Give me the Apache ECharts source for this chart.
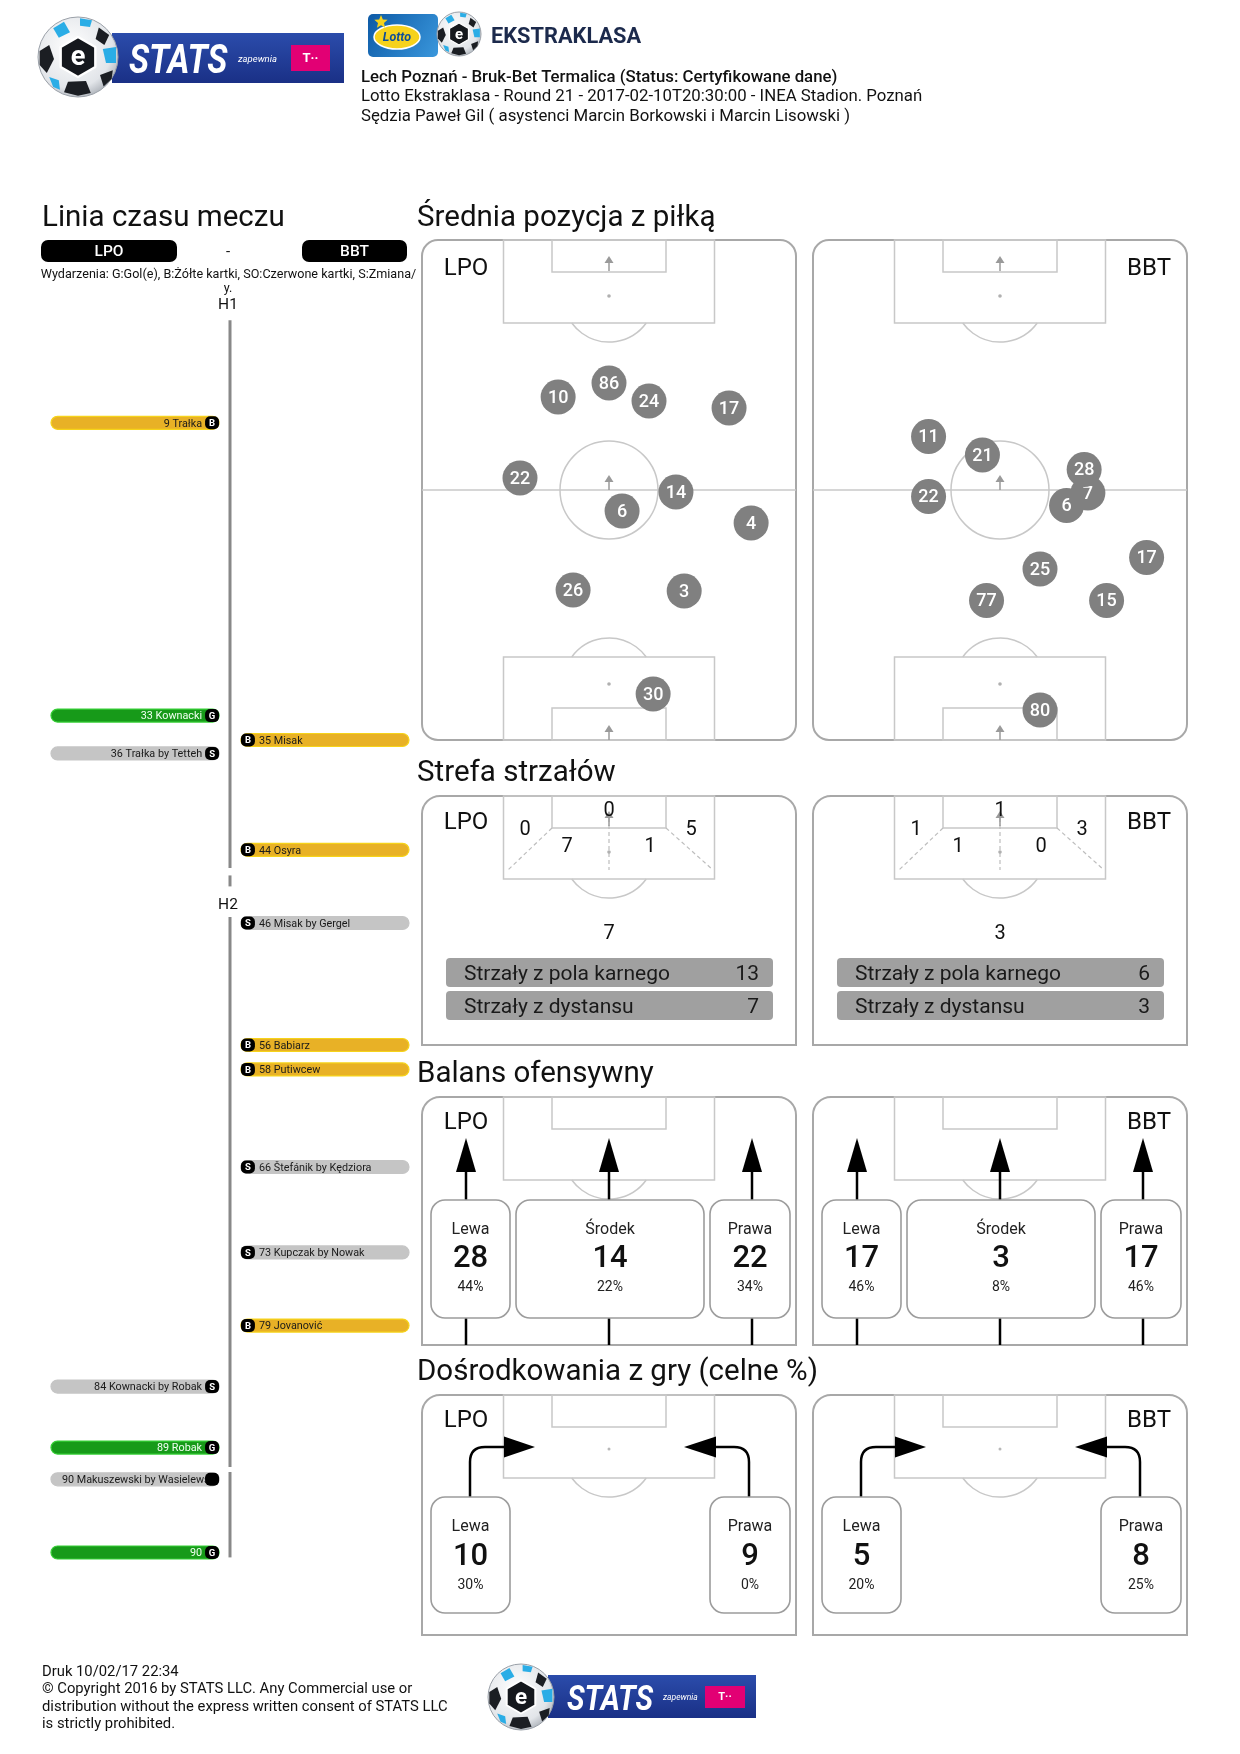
<!DOCTYPE html>
<html>
<head>
<meta charset="utf-8">
<script src="https://cdn.jsdelivr.net/npm/echarts/dist/echarts.min.js"></script>
<style>
html,body{margin:0;padding:0;background:#ffffff;}
#chart{width:1240px;height:1754px;}
</style>
</head>
<body>
<div id="chart"></div>
<script>
// ================= DATA =================
const headerLines = [
  'Lech Poznań - Bruk-Bet Termalica (Status: Certyfikowane dane)',
  'Lotto Ekstraklasa - Round 21 - 2017-02-10T20:30:00 - INEA Stadion. Poznań',
  'Sędzia Paweł Gil ( asystenci Marcin Borkowski i Marcin Lisowski )'
];
const teams = ['LPO', 'BBT'];
const sectionTitles = ['Linia czasu meczu', 'Średnia pozycja z piłką', 'Strefa strzałów', 'Balans ofensywny', 'Dośrodkowania z gry (celne %)'];
const legendLine1 = 'Wydarzenia: G:Gol(e), B:Żółte kartki, SO:Czerwone kartki, S:Zmiana/';
const legendLine2 = 'y.';
const footerLines = [
  'Druk 10/02/17 22:34',
  '© Copyright 2016 by STATS LLC. Any Commercial use or',
  'distribution without the express written consent of STATS LLC',
  'is strictly prohibited.'
];

// Timeline (eventTime = position on the running match clock incl. half-time gap)
const eventMinute = [9, 33, 35, 36, 44, 46, 56, 58, 66, 73, 79, 84, 89, 90, 90];
const eventTime   = [9, 33, 35, 36.1, 44, 50, 60, 62, 70, 77, 83, 88, 93, 95.6, 101.6];
const eventTeam   = ['LPO','LPO','BBT','LPO','BBT','BBT','BBT','BBT','BBT','BBT','BBT','LPO','LPO','LPO','LPO'];
const eventType   = ['B','G','B','S','B','S','B','B','S','S','B','S','G','S','G'];
const eventText   = ['Trałka','Kownacki','Misak','Trałka by Tetteh','Osyra','Misak by Gergel','Babiarz','Putiwcew','Štefánik by Kędziora','Kupczak by Nowak','Jovanović','Kownacki by Robak','Robak','Makuszewski by Wasielewski',''];
const timelineSegments = [[0.6, 45.5], [46.1, 47.0], [49.5, 94.6], [95.0, 102.0]];
const halfLabels = ['H1', 'H2'];
const halfLabelTime = [-0.8, 48.4];

// Average positions (x: 0-100 across, y: 0-100 own goal -> opponent goal)
const lpoNumbers = [10, 86, 24, 17, 22, 14, 6, 4, 26, 3, 30];
const lpoX = [36.4, 50.0, 60.7, 82.1, 26.2, 67.9, 53.5, 88.0, 40.4, 70.1, 61.8];
const lpoY = [68.6, 71.4, 67.8, 66.4, 52.4, 49.6, 45.8, 43.4, 30.0, 29.8, 9.2];
const bbtNumbers = [11, 21, 22, 7, 28, 6, 25, 17, 77, 15, 80];
const bbtX = [30.9, 45.3, 30.9, 73.5, 72.5, 67.8, 60.7, 89.2, 46.4, 78.5, 60.7];
const bbtY = [60.7, 57.0, 48.7, 49.4, 54.1, 46.9, 34.2, 36.5, 27.9, 27.9, 6.0];

// Shot zones: [left wing, six-yard, right wing, box left, box right, outside box]
const shotZoneLPO = [0, 0, 5, 7, 1, 7];
const shotZoneBBT = [1, 1, 3, 1, 0, 3];
const shotTypeLabels = ['Strzały z pola karnego', 'Strzały z dystansu'];
const shotTypeLPO = [13, 7];
const shotTypeBBT = [6, 3];

// Offensive balance
const balanceLabels = ['Lewa', 'Środek', 'Prawa'];
const balanceLPO = [28, 14, 22];
const balancePctLPO = [44, 22, 34];
const balanceBBT = [17, 3, 17];
const balancePctBBT = [46, 8, 46];

// Crosses
const crossLabels = ['Lewa', 'Prawa'];
const crossLPO = [10, 9];
const crossPctLPO = [30, 0];
const crossBBT = [5, 8];
const crossPctBBT = [20, 25];

// ================= HELPERS =================
const FAM = 'Roboto, "Noto Sans", sans-serif';
const PANEL_STROKE = '#a8a8a8', LINE = '#c8c8c8', ARROW_GRAY = '#9a9a9a';
const PW = 374;
const TEXT_DY = 2.5;
const _ctx = document.createElement('canvas').getContext('2d');
function measure(s, font) { _ctx.font = font; return _ctx.measureText(s).width; }

function T(x, y, s, size, o) {
  o = o || {};
  const font = `${o.style || 'normal'} ${o.weight || 'normal'} ${size}px ${FAM}`;
  const al = o.align || 'left', va = o.va || 'middle';
  const el = {type: 'text', silent: true, x: x, y: y + TEXT_DY, style: {text: String(s), font: font, fill: o.fill || '#111',
    align: al, textAlign: al, verticalAlign: va, textVerticalAlign: va}};
  if (o.sx) { el.scaleX = o.sx; }
  return el;
}
function R(x, y, w, h, stroke, o) {
  o = o || {};
  return {type: 'rect', silent: true, shape: {x: x, y: y, width: w, height: h, r: o.r || 0},
    style: {fill: o.fill || 'none', stroke: stroke || null, lineWidth: o.lw || 1.5}};
}
function Ln(x1, y1, x2, y2, stroke, lw, dash) {
  return {type: 'line', silent: true, shape: {x1: x1, y1: y1, x2: x2, y2: y2},
    style: {stroke: stroke, lineWidth: lw || 1.5, lineDash: dash || null}};
}
function Arc(cx, cy, r, s, e, stroke, lw) {
  return {type: 'arc', silent: true, shape: {cx: cx, cy: cy, r: r, startAngle: s, endAngle: e, clockwise: true},
    style: {fill: 'none', stroke: stroke || LINE, lineWidth: lw || 1.5}};
}
function Circ(cx, cy, r, fill, stroke, lw) {
  return {type: 'circle', silent: true, shape: {cx: cx, cy: cy, r: r},
    style: {fill: fill || 'none', stroke: stroke || null, lineWidth: lw || 1}};
}
function Poly(points, fill) {
  return {type: 'polygon', silent: true, shape: {points: points}, style: {fill: fill}};
}

const g = [];

// ---------- logos ----------
function ball(cx, cy, r) {
  const out = [];
  out.push({type: 'circle', silent: true, shape: {cx: cx, cy: cy, r: r},
    style: {fill: {type: 'radial', x: 0.42, y: 0.38, r: 0.7, colorStops: [
      {offset: 0, color: '#ffffff'}, {offset: 0.72, color: '#e2e5e9'}, {offset: 1, color: '#9ea4ac'}]},
      stroke: '#9aa0a8', lineWidth: 1}});
  const patches = [
    {c: '#1b1e23', p: [[-0.25, 0.62], [0.2, 0.6], [0.32, 0.9], [0, 0.97], [-0.35, 0.88]]},
    {c: '#1b1e23', p: [[-0.96, -0.15], [-0.72, -0.3], [-0.6, 0.05], [-0.78, 0.4], [-0.96, 0.2]]},
    {c: '#1b1e23', p: [[0.52, -0.74], [0.78, -0.55], [0.66, -0.3], [0.44, -0.45]]},
    {c: '#1b1e23', p: [[0.55, 0.45], [0.87, 0.33], [0.84, 0.55], [0.64, 0.74]]},
    {c: '#2aade6', p: [[-0.62, -0.72], [-0.35, -0.88], [-0.2, -0.62], [-0.48, -0.48]]},
    {c: '#2aade6', p: [[0.62, -0.2], [0.95, -0.25], [0.95, 0.15], [0.7, 0.15]]},
    {c: '#2aade6', p: [[-0.72, 0.5], [-0.48, 0.58], [-0.45, 0.82], [-0.62, 0.75]]},
    {c: '#2aade6', p: [[0.05, -0.97], [0.35, -0.92], [0.3, -0.75], [0.05, -0.78]]}
  ];
  patches.forEach(pt => out.push(Poly(pt.p.map(q => [cx + q[0] * r, cy + q[1] * r]), pt.c)));
  const hex = [];
  for (let k = 0; k < 6; k++) { const a = Math.PI / 6 + k * Math.PI / 3; hex.push([cx + Math.cos(a) * r * 0.5, cy + Math.sin(a) * r * 0.5]); }
  out.push({type: 'polygon', silent: true, shape: {points: hex}, style: {fill: '#15181d', stroke: '#ffffff', lineWidth: r * 0.06, lineJoin: 'round'}});
  out.push(T(cx, cy - 1, 'e', r * 0.68, {fill: '#fff', weight: 'bold', align: 'center'}));
  return out;
}
function statsLogo(o) {
  g.push({type: 'rect', silent: true, shape: {x: o.bx, y: o.by, width: o.bw, height: o.bh},
    style: {fill: {type: 'linear', x: 0, y: 0, x2: 0, y2: 1, colorStops: [{offset: 0, color: '#2b4cab'}, {offset: 1, color: '#1a3086'}]}}});
  g.push(T(o.tx, o.by + o.bh / 2 + 2, 'STATS', o.ts, {fill: '#fff', weight: 'bold', style: 'italic', sx: 0.84}));
  g.push(T(o.zx, o.by + o.bh / 2 - 1, 'zapewnia', o.zs, {fill: '#fff', style: 'italic'}));
  g.push(R(o.mx, o.my, o.mw, o.mh, null, {fill: '#e20074'}));
  g.push(T(o.mx + o.mw / 2, o.my + o.mh / 2 - 2, 'T··', o.mh * 0.5, {fill: '#fff', weight: 'bold', align: 'center'}));
  ball(o.cx, o.cy, o.r).forEach(e => g.push(e));
}
statsLogo({bx: 112, by: 33, bw: 232, bh: 50, tx: 129, ts: 40, zx: 238, zs: 9.5, mx: 291, my: 45, mw: 39, mh: 26, cx: 78, cy: 57, r: 40});
statsLogo({bx: 548, by: 1675, bw: 208, bh: 43, tx: 567, ts: 35, zx: 663, zs: 8.5, mx: 705, my: 1686, mw: 40, mh: 22, cx: 521, cy: 1697, r: 33});

// Lotto + Ekstraklasa logo
g.push({type: 'rect', silent: true, shape: {x: 368, y: 14, width: 70, height: 43, r: 5},
  style: {fill: {type: 'linear', x: 0, y: 0, x2: 1, y2: 1, colorStops: [{offset: 0, color: '#0d5aa6'}, {offset: 1, color: '#3a97dc'}]}}});
g.push({type: 'ellipse', silent: true, shape: {cx: 397, cy: 37, rx: 23, ry: 12}, style: {fill: '#f6d21c', stroke: '#ffffff', lineWidth: 1.5}});
g.push(T(397, 35, 'Lotto', 12.5, {fill: '#0d4d99', weight: 'bold', style: 'italic', align: 'center'}));
(function star(cx, cy, R1) {
  const pts = [];
  for (let k = 0; k < 10; k++) { const a = -Math.PI / 2 + k * Math.PI / 5; const rr = k % 2 ? R1 * 0.45 : R1; pts.push([cx + Math.cos(a) * rr, cy + Math.sin(a) * rr]); }
  g.push(Poly(pts, '#f6d21c'));
})(381, 22, 7);
ball(459, 34, 22).forEach(e => g.push(e));
g.push(T(491, 35, 'EKSTRAKLASA', 22, {fill: '#1c2a4c', weight: 'bold', sx: 0.99}));

// header text
headerLines.forEach((s, i) => g.push(T(361, 75 + i * 19.5, s, 16.8, {weight: i === 0 ? '500' : 'normal'})));

// section titles
g.push(T(42, 216, sectionTitles[0], 29.5));
g.push(T(417, 216, sectionTitles[1], 29.5));
g.push(T(417, 771, sectionTitles[2], 29.5));
g.push(T(417, 1072, sectionTitles[3], 29.5));
g.push(T(417, 1370, sectionTitles[4], 29.5));

// timeline header
g.push(R(41, 240, 136, 22, null, {fill: '#000', r: 7}));
g.push(T(109, 250, teams[0], 15.5, {fill: '#fff', weight: '500', align: 'center'}));
g.push(T(228, 250, '-', 15, {align: 'center'}));
g.push(R(302, 240, 105, 22, null, {fill: '#000', r: 7}));
g.push(T(354.5, 250, teams[1], 15.5, {fill: '#fff', weight: '500', align: 'center'}));
g.push(T(228.5, 272, legendLine1, 12.6, {align: 'center'}));
g.push(T(228, 286, legendLine2, 12.6, {align: 'center'}));

// ---------- pitch helpers ----------
function penaltyTop(x0, y0) {
  const cx = x0 + PW / 2, out = [];
  out.push(R(cx - 105.5, y0, 211, 83, LINE));
  out.push(R(cx - 57, y0, 114, 32, LINE));
  const a = Math.acos((83 - 56) / 46);
  out.push(Arc(cx, y0 + 56, 46, Math.PI / 2 - a, Math.PI / 2 + a));
  return out;
}
function penaltyBottom(x0, yb) {
  const cx = x0 + PW / 2, out = [];
  out.push(R(cx - 105.5, yb - 83, 211, 83, LINE));
  out.push(R(cx - 57, yb - 32, 114, 32, LINE));
  const a = Math.acos((83 - 56) / 46);
  out.push(Arc(cx, yb - 56, 46, 1.5 * Math.PI - a, 1.5 * Math.PI + a));
  return out;
}
function grayArrow(cx, tip) {
  return [Poly([[cx, tip], [cx - 4.5, tip + 7], [cx + 4.5, tip + 7]], ARROW_GRAY), Ln(cx, tip + 6, cx, tip + 15, ARROW_GRAY, 1.5)];
}

// Average position pitches
[422, 813].forEach((x0, ti) => {
  const y0 = 240, h = 500, cx = x0 + PW / 2;
  g.push({type: 'rect', silent: true, shape: {x: x0, y: y0, width: PW, height: h, r: 16}, style: {fill: 'none', stroke: PANEL_STROKE, lineWidth: 2}});
  g.push(Ln(x0, y0 + h / 2, x0 + PW, y0 + h / 2, LINE));
  g.push(Circ(cx, y0 + h / 2, 49, 'none', LINE, 1.5));
  penaltyTop(x0, y0).forEach(e => g.push(e));
  penaltyBottom(x0, y0 + h).forEach(e => g.push(e));
  g.push(Circ(cx, y0 + 56, 1.8, '#b0b0b0'));
  g.push(Circ(cx, y0 + h - 56, 1.8, '#b0b0b0'));
  grayArrow(cx, y0 + 16).forEach(e => g.push(e));
  grayArrow(cx, y0 + h / 2 - 15).forEach(e => g.push(e));
  grayArrow(cx, y0 + h - 15).forEach(e => g.push(e));
  g.push(T(ti === 0 ? x0 + 44 : x0 + 336, y0 + 26, teams[ti], 24, {align: 'center'}));
});

// Shot zone panels
[[422, shotZoneLPO, shotTypeLPO], [813, shotZoneBBT, shotTypeBBT]].forEach((cfg, ti) => {
  const x0 = cfg[0], zones = cfg[1], types = cfg[2], y0 = 796, h = 249, cx = x0 + PW / 2;
  g.push({type: 'rect', silent: true, shape: {x: x0, y: y0, width: PW, height: h, r: [18, 18, 0, 0]}, style: {fill: 'none', stroke: PANEL_STROKE, lineWidth: 2}});
  penaltyTop(x0, y0).forEach(e => g.push(e));
  g.push(Ln(cx - 57, y0 + 32, cx - 101, y0 + 74, '#bdbdbd', 1.2, [4, 3]));
  g.push(Ln(cx + 57, y0 + 32, cx + 104, y0 + 74, '#bdbdbd', 1.2, [4, 3]));
  g.push(Ln(cx, y0 + 22, cx, y0 + 74, '#bdbdbd', 1.2, [4, 3]));
  grayArrow(cx, y0 + 15).forEach(e => g.push(e));
  g.push(Circ(cx, y0 + 56, 1.8, '#b0b0b0'));
  const zpos = [[-84, 31], [0, 12], [82, 31], [-42, 48], [41, 48], [0, 135]];
  zones.forEach((v, i) => g.push(T(cx + zpos[i][0], y0 + zpos[i][1], v, 20, {align: 'center'})));
  types.forEach((v, i) => {
    const by = y0 + 162 + i * 33;
    g.push(R(x0 + 24, by, PW - 47, 29, null, {fill: '#a0a0a0', r: 4}));
    g.push(T(x0 + 42, by + 14.5, shotTypeLabels[i], 21, {fill: '#1a1a1a'}));
    g.push(T(x0 + PW - 37, by + 14.5, v, 21, {fill: '#1a1a1a', align: 'right'}));
  });
  g.push(T(ti === 0 ? x0 + 44 : x0 + 336, y0 + 24, teams[ti], 24, {align: 'center'}));
});

// Offensive balance panels
[[422, balanceLPO, balancePctLPO], [813, balanceBBT, balancePctBBT]].forEach((cfg, ti) => {
  const x0 = cfg[0], vals = cfg[1], pcts = cfg[2], y0 = 1097, h = 248;
  g.push({type: 'rect', silent: true, shape: {x: x0, y: y0, width: PW, height: h, r: [18, 18, 0, 0]}, style: {fill: 'none', stroke: PANEL_STROKE, lineWidth: 2}});
  penaltyTop(x0, y0).forEach(e => g.push(e));
  const lanes = [44, 187, 330];
  const boxes = [[9, 88], [94, 282], [288, 368]];
  lanes.forEach((ox, i) => {
    const lx = x0 + ox;
    g.push(Poly([[lx, y0 + 41], [lx - 10, y0 + 75], [lx + 10, y0 + 75]], '#000'));
    g.push(Ln(lx, y0 + 74, lx, y0 + 103, '#000', 2.5));
    g.push(Ln(lx, y0 + 221, lx, y0 + h, '#000', 2.5));
    const b = boxes[i];
    g.push(R(x0 + b[0], y0 + 103, b[1] - b[0], 118, '#9c9c9c', {fill: '#fff', r: 14, lw: 1.6}));
    const tx = x0 + (b[0] + b[1]) / 2;
    g.push(T(tx, y0 + 130, balanceLabels[i], 16, {align: 'center', fill: '#222'}));
    g.push(T(tx, y0 + 160, vals[i], 31, {align: 'center', weight: '500'}));
    g.push(T(tx, y0 + 188, pcts[i] + '%', 14, {align: 'center', fill: '#222'}));
  });
  g.push(T(ti === 0 ? x0 + 44 : x0 + 336, y0 + 23, teams[ti], 24, {align: 'center'}));
});

// Crosses panels
[[422, crossLPO, crossPctLPO], [813, crossBBT, crossPctBBT]].forEach((cfg, ti) => {
  const x0 = cfg[0], vals = cfg[1], pcts = cfg[2], y0 = 1395, h = 240, cx = x0 + PW / 2;
  g.push({type: 'rect', silent: true, shape: {x: x0, y: y0, width: PW, height: h, r: [18, 18, 0, 0]}, style: {fill: 'none', stroke: PANEL_STROKE, lineWidth: 2}});
  penaltyTop(x0, y0).forEach(e => g.push(e));
  g.push(Circ(cx, y0 + 54, 1.5, '#b8b8b8'));
  const ay = y0 + 52;
  const lx = x0 + 48;
  g.push(Ln(lx, y0 + 102, lx, ay + 15, '#000', 2.5));
  g.push({type: 'bezierCurve', silent: true, shape: {x1: lx, y1: ay + 15, x2: lx + 15, y2: ay, cpx1: lx, cpy1: ay}, style: {fill: 'none', stroke: '#000', lineWidth: 2.5}});
  g.push(Ln(lx + 15, ay, x0 + 83, ay, '#000', 2.5));
  g.push(Poly([[x0 + 82, ay - 10.5], [x0 + 82, ay + 10.5], [x0 + 113, ay]], '#000'));
  const rx = x0 + 327;
  g.push(Ln(rx, y0 + 102, rx, ay + 15, '#000', 2.5));
  g.push({type: 'bezierCurve', silent: true, shape: {x1: rx, y1: ay + 15, x2: rx - 15, y2: ay, cpx1: rx, cpy1: ay}, style: {fill: 'none', stroke: '#000', lineWidth: 2.5}});
  g.push(Ln(rx - 15, ay, x0 + 293, ay, '#000', 2.5));
  g.push(Poly([[x0 + 294, ay - 10.5], [x0 + 294, ay + 10.5], [x0 + 262, ay]], '#000'));
  const boxes = [[9, 88], [288, 368]];
  boxes.forEach((b, i) => {
    g.push(R(x0 + b[0], y0 + 102, b[1] - b[0], 116, '#9c9c9c', {fill: '#fff', r: 14, lw: 1.6}));
    const tx = x0 + (b[0] + b[1]) / 2;
    g.push(T(tx, y0 + 129, crossLabels[i], 16, {align: 'center', fill: '#222'}));
    g.push(T(tx, y0 + 160, vals[i], 31, {align: 'center', weight: '500'}));
    g.push(T(tx, y0 + 188, pcts[i] + '%', 14, {align: 'center', fill: '#222'}));
  });
  g.push(T(ti === 0 ? x0 + 44 : x0 + 336, y0 + 23, teams[ti], 24, {align: 'center'}));
});

// footer
footerLines.forEach((s, i) => g.push(T(42, 1670 + i * 17.3, s, 14.8)));

// ================= SERIES =================
const typeStyles = {
  B: {fill: '#e8b126', stroke: '#f6d31a', text: '#1a1a1a'},
  G: {fill: '#179a19', stroke: '#36cf36', text: '#f2fff2'},
  S: {fill: '#c5c5c5', stroke: '#c5c5c5', text: '#1a1a1a'}
};
function renderEvent(params, api) {
  const i = params.dataIndex;
  const side = api.value(0), t = api.value(1);
  const pO = api.coord([side, t]), pI = api.coord([side * 0.061, t]);
  const y = pO[1];
  const xa = Math.min(pO[0], pI[0]), xb = Math.max(pO[0], pI[0]);
  const st = typeStyles[eventType[i]];
  const label = (eventMinute[i] + ' ' + eventText[i]).trim();
  const font = '10.8px ' + FAM;
  const bw = 14;
  const badgeX = side < 0 ? xb - bw : xa;
  const children = [{type: 'rect', shape: {x: xa, y: y - 6.5, width: xb - xa, height: 13, r: 6.5},
    style: {fill: st.fill, stroke: st.stroke, lineWidth: 1.2}}];
  let tx, al, showLetter = true;
  if (side < 0) {
    const avail = badgeX - 3 - xa;
    if (measure(label, font) > avail - 8) { tx = xa + 11; al = 'left'; showLetter = false; }
    else { tx = badgeX - 3; al = 'right'; }
  } else { tx = badgeX + bw + 4; al = 'left'; }
  children.push({type: 'text', x: tx, y: y + 1.2, style: {text: label, font: font, fill: st.text,
    align: al, textAlign: al, verticalAlign: 'middle', textVerticalAlign: 'middle'}});
  children.push({type: 'rect', shape: {x: badgeX, y: y - 6.5, width: bw, height: 13, r: 5}, style: {fill: '#000'}});
  if (showLetter) {
    children.push({type: 'text', x: badgeX + bw / 2, y: y + 1, style: {text: eventType[i], font: 'bold 9.5px ' + FAM,
      fill: '#fff', align: 'center', textAlign: 'center', verticalAlign: 'middle', textVerticalAlign: 'middle'}});
  }
  return {type: 'group', children: children};
}
function renderPlayer(params, api) {
  const i = params.dataIndex;
  const p = api.coord([api.value(0), api.value(1)]);
  return {type: 'group', children: [
    {type: 'circle', z2: i * 2, shape: {cx: p[0], cy: p[1], r: 17.5}, style: {fill: '#808080'}},
    {type: 'text', z2: i * 2 + 1, x: p[0], y: p[1] + 1, style: {text: String(api.value(2)), font: '500 18px ' + FAM,
      fill: '#ffffff', align: 'center', textAlign: 'center', verticalAlign: 'middle', textVerticalAlign: 'middle'}}
  ]};
}

const chart = echarts.init(document.getElementById('chart'), null, {renderer: 'canvas', width: 1240, height: 1754});
chart.setOption({
  animation: false,
  backgroundColor: '#ffffff',
  grid: [
    {left: 51, top: 313, width: 358, height: 1281, containLabel: false, outerBoundsMode: 'none'},
    {left: 422, top: 240, width: 374, height: 500, containLabel: false, outerBoundsMode: 'none'},
    {left: 813, top: 240, width: 374, height: 500, containLabel: false, outerBoundsMode: 'none'}
  ],
  xAxis: [
    {type: 'value', gridIndex: 0, min: -1, max: 1, show: false},
    {type: 'value', gridIndex: 1, min: 0, max: 100, show: false},
    {type: 'value', gridIndex: 2, min: 0, max: 100, show: false}
  ],
  yAxis: [
    {type: 'value', gridIndex: 0, min: 0, max: 105, inverse: true, show: false},
    {type: 'value', gridIndex: 1, min: 0, max: 100, show: false},
    {type: 'value', gridIndex: 2, min: 0, max: 100, show: false}
  ],
  graphic: {elements: g},
  series: [
    {
      type: 'custom', xAxisIndex: 0, yAxisIndex: 0, silent: true,
      data: timelineSegments.map(s => [s[0], s[1]]),
      renderItem: function (params, api) {
        const a = api.coord([0, api.value(0)]), b = api.coord([0, api.value(1)]);
        return {type: 'line', shape: {x1: a[0], y1: a[1], x2: b[0], y2: b[1]}, style: {stroke: '#888888', lineWidth: 3}};
      }
    },
    {
      type: 'custom', xAxisIndex: 0, yAxisIndex: 0, silent: true,
      data: halfLabelTime.map((t, i) => [0, t, i]),
      renderItem: function (params, api) {
        const p = api.coord([api.value(0), api.value(1)]);
        return {type: 'text', x: p[0] - 2, y: p[1] + 2, style: {text: halfLabels[api.value(2)], font: '15.5px ' + FAM, fill: '#111',
          align: 'center', textAlign: 'center', verticalAlign: 'middle', textVerticalAlign: 'middle'}};
      }
    },
    {
      type: 'custom', xAxisIndex: 0, yAxisIndex: 0, silent: true,
      data: eventTime.map((t, i) => [eventTeam[i] === teams[0] ? -1 : 1, t]),
      renderItem: renderEvent
    },
    {
      type: 'custom', xAxisIndex: 1, yAxisIndex: 1, silent: true,
      data: lpoX.map((x, i) => [x, lpoY[i], lpoNumbers[i]]),
      renderItem: renderPlayer
    },
    {
      type: 'custom', xAxisIndex: 2, yAxisIndex: 2, silent: true,
      data: bbtX.map((x, i) => [x, bbtY[i], bbtNumbers[i]]),
      renderItem: renderPlayer
    }
  ]
});
</script>
</body>
</html>
